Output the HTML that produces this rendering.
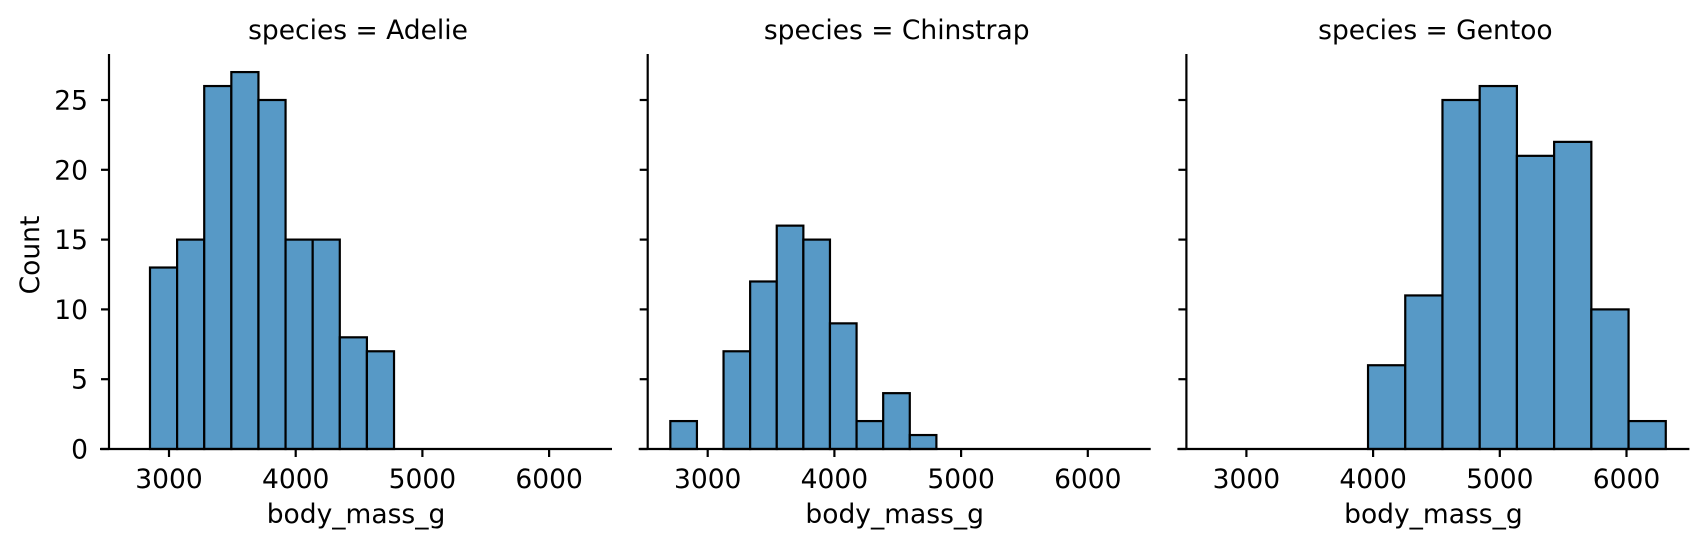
<!DOCTYPE html>
<html>
<head>
<meta charset="utf-8">
<style>
  html,body{margin:0;padding:0;background:#fff;}
  svg{display:block;}
  text{font-family:"DejaVu Sans","Liberation Sans",sans-serif;fill:#000;}
</style>
</head>
<body>
<svg id="chart" width="1706" height="550" viewBox="0 0 1706 550" xmlns="http://www.w3.org/2000/svg"></svg>
<script>
const speciesNames = ["Adelie", "Chinstrap", "Gentoo"];
const binStarts = [2850, 2705, 3960];
const binWidths = [214, 210, 293.75];
const adelieCounts = [13, 15, 26, 27, 25, 15, 15, 8, 7];
const chinstrapCounts = [2, 0, 7, 12, 16, 15, 9, 2, 4, 1];
const gentooCounts = [6, 11, 25, 26, 21, 22, 10, 2];
const xTickValues = [3000, 4000, 5000, 6000];
const yTickValues = [0, 5, 10, 15, 20, 25];
const seriesCounts = [adelieCounts, chinstrapCounts, gentooCounts];

const NS = "http://www.w3.org/2000/svg";
const svg = document.getElementById("chart");
const panelOffset = 538.7;
const axLeft0 = 100, axRight0 = 612, axisX0 = 109, baseY = 449, axTopY = 54;
const x3000 = 169, pxPerUnitX = 0.1267, pxPerCount = 13.96;
const FS = 26.5;

function xScale(panel, v){ return x3000 + panel*panelOffset + (v-3000)*pxPerUnitX; }
function yScale(c){ return baseY - c*pxPerCount; }
function mk(tag, attrs){ const e=document.createElementNS(NS,tag); for(const k in attrs) e.setAttribute(k,attrs[k]); return e; }

speciesNames.forEach((sp, p) => {
  const g = mk("g", {});
  
  
  svg.appendChild(g);
  const off = p*panelOffset;

  seriesCounts[p].forEach((c, i) => {
    if (c <= 0) return;
    const x0 = xScale(p, binStarts[p] + i*binWidths[p]);
    const x1 = xScale(p, binStarts[p] + (i+1)*binWidths[p]);
    const r = mk("rect", {x:x0, y:yScale(c), width:x1-x0, height:yScale(0)-yScale(c), fill:"#5799c6", stroke:"#000", "stroke-width":2.2});
    
    
    g.appendChild(r);
  });

  const ys = mk("line", {x1:axisX0+off, x2:axisX0+off, y1:axTopY, y2:baseY, stroke:"#000", "stroke-width":2.2});
  
  
  g.appendChild(ys);
  const xs = mk("line", {x1:axLeft0+off, x2:axRight0+off, y1:baseY, y2:baseY, stroke:"#000", "stroke-width":2.2});
  
  
  g.appendChild(xs);

  xTickValues.forEach(v => {
    const x = xScale(p, v);
    const t = mk("line", {x1:x, x2:x, y1:baseY, y2:baseY+8, stroke:"#000", "stroke-width":2.2});
    
    
    g.appendChild(t);
    const l = mk("text", {x:x, y:488, "text-anchor":"middle", "font-size":FS});
    l.textContent = v;
    
    
    g.appendChild(l);
  });

  yTickValues.forEach(v => {
    const y = yScale(v);
    const t = mk("line", {x1:axisX0+off-8, x2:axisX0+off, y1:y, y2:y, stroke:"#000", "stroke-width":2.2});
    
    
    g.appendChild(t);
    if (p === 0) {
      const l = mk("text", {x:88, y:y+9.5, "text-anchor":"end", "font-size":FS});
      l.textContent = v;
      
      
      g.appendChild(l);
    }
  });

  const cx = (axLeft0+axRight0)/2 + off;
  const ti = mk("text", {x:cx+2, y:39, "text-anchor":"middle", "font-size":FS});
  ti.textContent = "species = " + sp;
  
  
  g.appendChild(ti);

  const xl = mk("text", {x:cx, y:523, "text-anchor":"middle", "font-size":FS});
  xl.textContent = "body_mass_g";
  
  
  g.appendChild(xl);
});

const yl = mk("text", {x:0, y:0, "text-anchor":"middle", "font-size":FS, transform:"translate(39,255) rotate(-90)"});
yl.textContent = "Count";


svg.appendChild(yl);
</script>
</body>
</html>
